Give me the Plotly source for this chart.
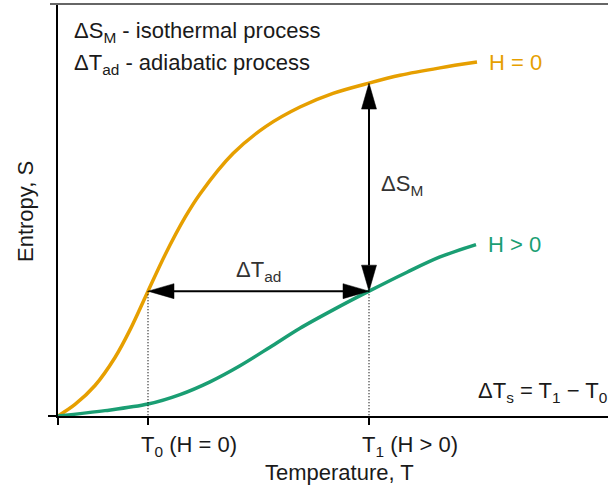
import plotly.graph_objects as go

# ---- data ----
temp_h0 = [0.0, 0.34, 0.74, 1.14, 1.44, 1.80, 2.14, 2.54, 2.84, 3.50, 4.16, 4.84, 5.50, 6.22, 6.84, 7.64, 8.38]
entropy_h0 = [0.0, 0.28, 0.74, 1.42, 2.09, 3.03, 3.91, 4.82, 5.39, 6.37, 7.03, 7.50, 7.83, 8.08, 8.27, 8.45, 8.59]

temp_h = [0.0, 0.94, 1.80, 2.44, 3.04, 3.64, 4.24, 4.84, 5.54, 6.22, 6.98, 7.64, 8.36]
entropy_h = [0.0, 0.13, 0.29, 0.52, 0.83, 1.22, 1.67, 2.13, 2.60, 3.03, 3.49, 3.86, 4.16]

T0 = 1.80
T1 = 6.22
S_T0_H0 = 3.03   # entropy at T0 on H = 0
S_T1_H0 = 8.08   # entropy at T1 on H = 0
S_T1_H = 3.03    # entropy at T1 on H > 0

tick_labels = ["T<sub>0</sub> (H = 0)", "T<sub>1</sub> (H > 0)"]

ORANGE = "#E69F00"
GREEN = "#1A9E73"
FONT = "Liberation Sans, Arial, sans-serif"
TXT = "#1a1a1a"

W, H = 608, 488
ML, MR, MT, MB = 58, 0, 4, 72
XR = [0, 11]
YR = [0, 10]
PW, PH = W - ML - MR, H - MT - MB
px_x = (XR[1] - XR[0]) / PW   # data units per pixel
px_y = (YR[1] - YR[0]) / PH

fig = go.Figure()
fig.add_trace(go.Scatter(x=temp_h0, y=entropy_h0, mode="lines",
                         line=dict(color=ORANGE, width=3.5, shape="spline", smoothing=0.9),
                         hoverinfo="skip", showlegend=False))
fig.add_trace(go.Scatter(x=temp_h, y=entropy_h, mode="lines",
                         line=dict(color=GREEN, width=3.5, shape="spline", smoothing=0.9),
                         hoverinfo="skip", showlegend=False))

# dotted guides
for t, s in [(T0, S_T0_H0), (T1, S_T1_H)]:
    fig.add_trace(go.Scatter(x=[t, t], y=[s, YR[0]], mode="lines",
                             line=dict(color="black", width=1.2, dash="1px,2px"),
                             hoverinfo="skip", showlegend=False))

HL, HW = 26, 15  # arrowhead length / width in px


def head(tx, ty, d):
    if d in ("up", "down"):
        sgn = -1 if d == "up" else 1
        by = ty + sgn * HL * px_y
        return f"M{tx},{ty} L{tx - HW / 2 * px_x},{by} L{tx + HW / 2 * px_x},{by} Z", (tx, by)
    sgn = 1 if d == "left" else -1
    bx = tx + sgn * HL * px_x
    return f"M{tx},{ty} L{bx},{ty - HW / 2 * px_y} L{bx},{ty + HW / 2 * px_y} Z", (bx, ty)


shapes = []
p1, b1 = head(T1, S_T1_H0, "up")
p2, b2 = head(T1, S_T1_H, "down")
p3, b3 = head(T0, S_T0_H0, "left")
p4, b4 = head(T1, S_T1_H, "right")
fig.add_trace(go.Scatter(x=[T1, T1], y=[b1[1], b2[1]], mode="lines",
                         line=dict(color="black", width=2), hoverinfo="skip", showlegend=False))
fig.add_trace(go.Scatter(x=[b3[0], b4[0]], y=[S_T0_H0, S_T0_H0], mode="lines",
                         line=dict(color="black", width=2), hoverinfo="skip", showlegend=False))
for p in (p1, p2, p3, p4):
    shapes.append(dict(type="path", path=p, xref="x", yref="y",
                       fillcolor="black", line=dict(color="black", width=0.5)))

# top border
shapes.append(dict(type="line", xref="paper", yref="paper", x0=-8 / PW, x1=1, y0=1, y1=1,
                   line=dict(color="#666666", width=2)))

fs = 22
ann = []
ann.append(dict(text="ΔS<sub>M</sub> - isothermal process", xref="paper", yref="paper",
                x=14 / PW, y=1 - 28 / PH, xanchor="left", yanchor="middle",
                showarrow=False, font=dict(family=FONT, size=fs, color=TXT)))
ann.append(dict(text="ΔT<sub>ad</sub> - adiabatic process", xref="paper", yref="paper",
                x=14 / PW, y=1 - 60 / PH, xanchor="left", yanchor="middle",
                showarrow=False, font=dict(family=FONT, size=fs, color=TXT)))
ann.append(dict(text="H = 0", x=temp_h0[-1], y=entropy_h0[-1], xanchor="left", yanchor="middle",
                xshift=10, showarrow=False, font=dict(family=FONT, size=fs, color=ORANGE)))
ann.append(dict(text="H > 0", x=temp_h[-1], y=entropy_h[-1], xanchor="left", yanchor="middle",
                xshift=10, showarrow=False, font=dict(family=FONT, size=fs, color=GREEN)))
ann.append(dict(text="ΔS<sub>M</sub>", x=T1, y=(S_T1_H0 + S_T1_H) / 2, xanchor="left", yanchor="middle",
                xshift=10, yshift=2, showarrow=False, font=dict(family=FONT, size=fs, color="#333")))
ann.append(dict(text="ΔT<sub>ad</sub>", x=(T0 + T1) / 2, y=S_T0_H0, xanchor="center", yanchor="bottom",
                yshift=4, showarrow=False, font=dict(family=FONT, size=fs, color="#333")))
ann.append(dict(text="ΔT<sub>s</sub> = T<sub>1</sub> − T<sub>0</sub>", xref="paper", x=1, y=0,
                xanchor="right", yanchor="bottom", xshift=1, yshift=8,
                showarrow=False, font=dict(family=FONT, size=fs, color=TXT)))
for t, lab in zip([T0, T1], tick_labels):
    ann.append(dict(text=lab, x=t, yref="paper", y=0, xanchor="left", yanchor="top",
                    xshift=-9, yshift=-14, showarrow=False, font=dict(family=FONT, size=fs, color=TXT)))
ann.append(dict(text="Temperature, T", xref="paper", yref="paper", x=(339 - ML) / PW, y=0,
                xanchor="center", yanchor="middle", yshift=-(472 - 416), showarrow=False,
                font=dict(family=FONT, size=fs, color=TXT)))
ann.append(dict(text="Entropy, S", xref="paper", yref="paper", x=0, y=(416 - 212) / PH,
                xanchor="center", yanchor="middle", xshift=-(ML - 25), textangle=-90, showarrow=False,
                font=dict(family=FONT, size=fs, color=TXT)))

fig.update_layout(
    width=W, height=H, margin=dict(l=ML, r=MR, t=MT, b=MB),
    paper_bgcolor="white", plot_bgcolor="white",
    shapes=shapes, annotations=ann,
    xaxis=dict(range=XR, showgrid=False, zeroline=False, showline=True, linecolor="black", linewidth=1.5,
               ticks="outside", tickvals=[0, T0, T1], ticklen=7, tickwidth=1.5, tickcolor="black",
               showticklabels=False, fixedrange=True),
    yaxis=dict(range=YR, showgrid=False, zeroline=False, showline=True, linecolor="black", linewidth=1.5,
               ticks="outside", tickvals=[0], ticklen=8, tickwidth=1.5, tickcolor="black",
               showticklabels=False, fixedrange=True),
)
fig.write_html("out.html", config={"displayModeBar": False},
               post_script="document.body.style.margin='0px';document.body.style.overflow='hidden';")
